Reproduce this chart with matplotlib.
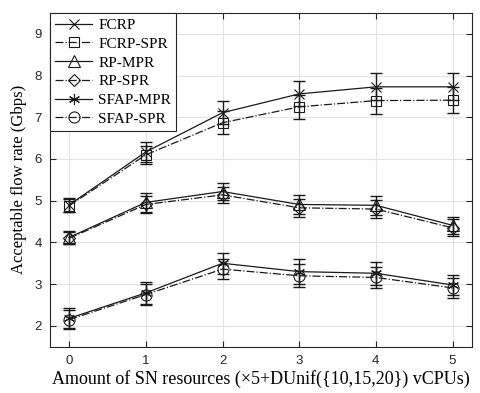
import matplotlib.pyplot as plt

# x positions: amount of SN resources
x = [0, 1, 2, 3, 4, 5]

# mean acceptable flow rate (Gbps)
fcrp = [4.90, 6.17, 7.11, 7.56, 7.73, 7.73]
fcrp_spr = [4.88, 6.10, 6.87, 7.25, 7.40, 7.41]
rp_mpr = [4.12, 4.96, 5.22, 4.91, 4.89, 4.41]
rp_spr = [4.10, 4.91, 5.14, 4.83, 4.80, 4.35]
sfap_mpr = [2.18, 2.79, 3.50, 3.30, 3.26, 2.98]
sfap_spr = [2.15, 2.75, 3.36, 3.20, 3.16, 2.91]

# error bar half widths
fcrp_err = [0.17, 0.24, 0.28, 0.30, 0.32, 0.32]
fcrp_spr_err = [0.15, 0.22, 0.27, 0.29, 0.31, 0.31]
rp_mpr_err = [0.15, 0.22, 0.20, 0.22, 0.23, 0.21]
rp_spr_err = [0.14, 0.21, 0.19, 0.21, 0.22, 0.20]
sfap_mpr_err = [0.24, 0.27, 0.25, 0.30, 0.27, 0.25]
sfap_spr_err = [0.22, 0.25, 0.24, 0.28, 0.26, 0.24]

labels = ["FCRP", "FCRP-SPR", "RP-MPR", "RP-SPR", "SFAP-MPR", "SFAP-SPR"]
markers = ["x", "s", "^", "D", (6, 2, 0), "o"]
msizes = [7, 7, 8, 6, 8, 8]
styles = ["-", "-.", "-", "-.", "-", "-."]

series = [fcrp, fcrp_spr, rp_mpr, rp_spr, sfap_mpr, sfap_spr]
errs = [fcrp_err, fcrp_spr_err, rp_mpr_err, rp_spr_err, sfap_mpr_err, sfap_spr_err]

fig = plt.figure(figsize=(4.81, 3.93), dpi=100)
ax = fig.add_axes([50/481, 1-346.7/393, (471.7-50)/481, (346.7-13)/393])

handles = []
for i in range(len(series)):
    ax.errorbar(x, series[i], yerr=errs[i], fmt="none", ecolor="#1a1a1a",
                elinewidth=1.0, capsize=4, capthick=1.0, zorder=3)
    h, = ax.plot(x, series[i], linestyle=styles[i], color="#1a1a1a", lw=0.9,
                 marker=markers[i], markersize=msizes[i], markerfacecolor="none",
                 markeredgecolor="#1a1a1a", markeredgewidth=0.8, label=labels[i], zorder=4)
    handles.append(h)

ax.set_xlim(-0.25, 5.25)
ax.set_ylim(1.5, 9.5)
ax.set_xticks(x)
ax.set_yticks([2, 3, 4, 5, 6, 7, 8, 9])
ax.grid(True, color="#e3e3e3", lw=0.8)
ax.set_axisbelow(True)
ax.tick_params(direction="in", top=True, right=True, length=4, width=0.8,
               colors="#262626", labelsize=9.5, pad=6)
for lbl in ax.get_xticklabels() + ax.get_yticklabels():
    lbl.set_fontfamily("Liberation Sans")
for s in ax.spines.values():
    s.set_color("#262626")
    s.set_linewidth(0.8)

ax.set_xlabel("Amount of SN resources (\u00d75+DUnif({10,15,20}) vCPUs)",
              family="Liberation Serif", fontsize=13, labelpad=2)
ax.set_ylabel("Acceptable flow rate (Gbps)", family="Liberation Serif",
              fontsize=12, labelpad=5)

leg = ax.legend(handles=handles, loc="upper left", prop={"family": "Liberation Serif", "size": 11},
                frameon=True, fancybox=False, edgecolor="#262626", framealpha=1,
                handlelength=2.4, handletextpad=0.4, labelspacing=0.33,
                borderaxespad=0, borderpad=0.35)
leg.get_frame().set_linewidth(0.8)

fig.savefig("out.png", dpi=100)
